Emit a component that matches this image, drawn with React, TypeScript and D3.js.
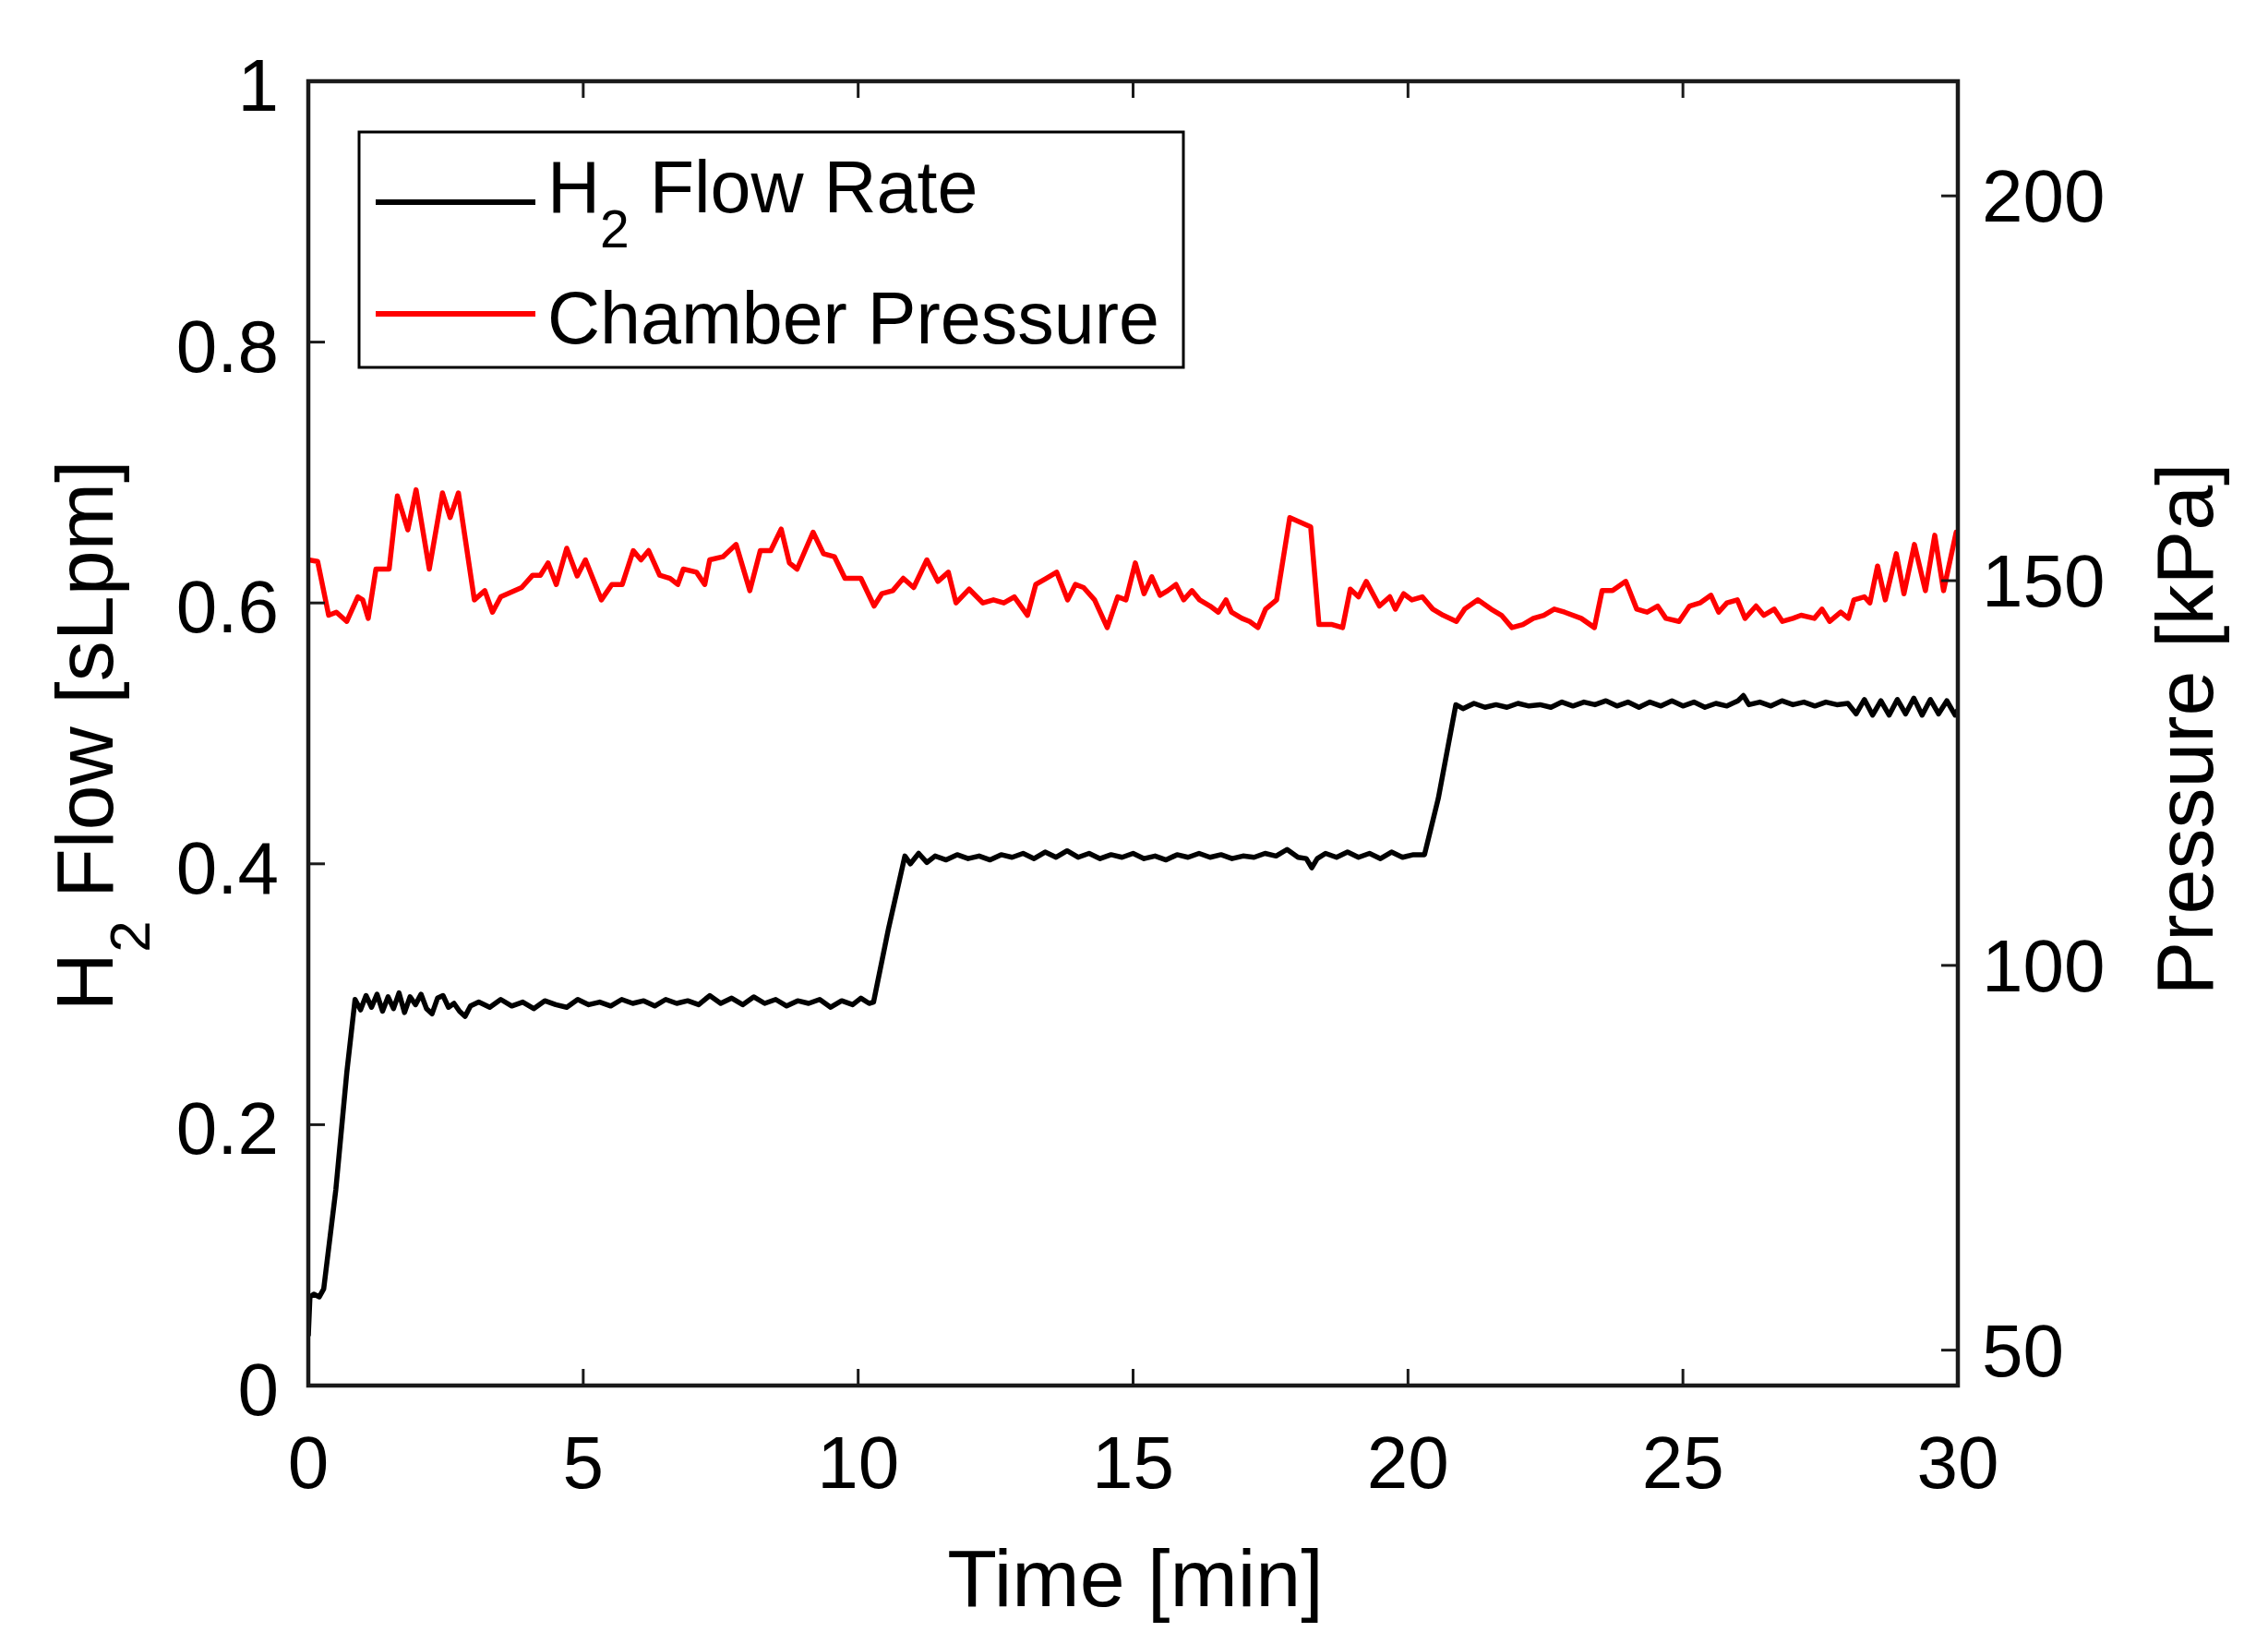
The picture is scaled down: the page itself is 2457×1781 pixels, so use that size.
import * as d3 from 'd3'

// time [min], H2 flow [sLpm]
const flowData: [number, number][] = [
  [0, 0.038], [0.03, 0.068], [0.1, 0.07], [0.2, 0.068], [0.28, 0.074], [0.5, 0.15], [0.7, 0.24], [0.85, 0.296],
  [0.95, 0.288], [1.05, 0.299], [1.15, 0.29], [1.25, 0.3], [1.35, 0.287], [1.45, 0.298], [1.55, 0.289], [1.65, 0.301],
  [1.75, 0.286], [1.85, 0.298], [1.95, 0.292], [2.05, 0.3], [2.15, 0.289], [2.25, 0.285], [2.35, 0.297], [2.45, 0.299],
  [2.55, 0.29], [2.65, 0.293], [2.75, 0.287], [2.85, 0.283], [2.95, 0.291], [3.1, 0.294], [3.3, 0.29], [3.5, 0.296],
  [3.7, 0.291], [3.9, 0.294], [4.1, 0.289], [4.3, 0.295], [4.5, 0.292], [4.7, 0.29], [4.9, 0.296], [5.1, 0.292],
  [5.3, 0.294], [5.5, 0.291], [5.7, 0.296], [5.9, 0.293], [6.1, 0.295], [6.3, 0.291], [6.5, 0.296], [6.7, 0.293],
  [6.9, 0.295], [7.1, 0.292], [7.3, 0.299], [7.5, 0.293], [7.7, 0.297], [7.9, 0.292], [8.1, 0.298], [8.3, 0.293],
  [8.5, 0.296], [8.7, 0.291], [8.9, 0.295], [9.1, 0.293], [9.3, 0.296], [9.5, 0.29], [9.7, 0.295], [9.9, 0.292],
  [10.05, 0.297], [10.2, 0.293], [10.28, 0.294], [10.55, 0.35], [10.85, 0.406],
  [10.95, 0.4], [11.1, 0.408], [11.25, 0.401], [11.4, 0.406], [11.6, 0.403], [11.8, 0.407], [12.0, 0.404], [12.2, 0.406],
  [12.4, 0.403], [12.6, 0.407], [12.8, 0.405], [13.0, 0.408], [13.2, 0.404], [13.4, 0.409], [13.6, 0.405], [13.8, 0.41],
  [14.0, 0.405], [14.2, 0.408], [14.4, 0.404], [14.6, 0.407], [14.8, 0.405], [15.0, 0.408], [15.2, 0.404], [15.4, 0.406],
  [15.6, 0.403], [15.8, 0.407], [16.0, 0.405], [16.2, 0.408], [16.4, 0.405], [16.6, 0.407], [16.8, 0.404], [17.0, 0.406],
  [17.2, 0.405], [17.4, 0.408], [17.6, 0.406], [17.8, 0.411], [18.0, 0.405], [18.15, 0.404], [18.25, 0.397], [18.35, 0.404],
  [18.5, 0.408], [18.7, 0.405], [18.9, 0.409], [19.1, 0.405], [19.3, 0.408], [19.5, 0.404], [19.7, 0.409], [19.9, 0.405],
  [20.1, 0.407], [20.3, 0.407], [20.55, 0.45], [20.87, 0.522],
  [21.0, 0.519], [21.2, 0.523], [21.4, 0.52], [21.6, 0.522], [21.8, 0.52], [22.0, 0.523], [22.2, 0.521], [22.4, 0.522],
  [22.6, 0.52], [22.8, 0.524], [23.0, 0.521], [23.2, 0.524], [23.4, 0.522], [23.6, 0.525], [23.8, 0.521], [24.0, 0.524],
  [24.2, 0.52], [24.4, 0.524], [24.6, 0.521], [24.8, 0.525], [25.0, 0.521], [25.2, 0.524], [25.4, 0.52], [25.6, 0.523],
  [25.8, 0.521], [26.0, 0.525], [26.1, 0.529], [26.2, 0.522], [26.4, 0.524], [26.6, 0.521], [26.8, 0.525], [27.0, 0.522],
  [27.2, 0.524], [27.4, 0.521], [27.6, 0.524], [27.8, 0.522], [28.0, 0.523], [28.15, 0.515], [28.3, 0.526], [28.45, 0.514],
  [28.6, 0.525], [28.75, 0.514], [28.9, 0.526], [29.05, 0.515], [29.2, 0.527], [29.35, 0.514], [29.5, 0.526], [29.65, 0.515],
  [29.8, 0.525], [29.95, 0.514], [30.0, 0.518],
]

// time [min], chamber pressure [kPa]
const pressureData: [number, number][] = [
  [0, 152.7], [0.17, 152.5], [0.37, 145.5], [0.51, 145.9], [0.7, 144.7], [0.9, 147.9], [0.99, 147.5], [1.09, 145.1],
  [1.23, 151.5], [1.47, 151.5], [1.62, 161.0], [1.81, 156.6], [1.96, 161.8], [2.2, 151.5], [2.44, 161.4], [2.58, 158.2],
  [2.73, 161.4], [3.02, 147.5], [3.21, 148.7], [3.35, 145.9], [3.5, 147.9], [3.88, 149.1], [4.08, 150.7], [4.22, 150.7],
  [4.36, 152.3], [4.51, 149.5], [4.7, 154.2], [4.89, 150.6], [5.04, 152.7], [5.33, 147.5], [5.52, 149.5], [5.71, 149.5],
  [5.91, 153.9], [6.05, 152.7], [6.19, 153.9], [6.39, 150.7], [6.58, 150.3], [6.72, 149.5], [6.82, 151.5], [7.06, 151.1],
  [7.21, 149.5], [7.3, 152.7], [7.54, 153.1], [7.78, 154.7], [8.03, 148.7], [8.22, 153.9], [8.41, 153.9], [8.6, 156.7],
  [8.75, 152.3], [8.89, 151.5], [9.18, 156.3], [9.37, 153.5], [9.57, 153.1], [9.76, 150.3], [10.05, 150.3], [10.29, 146.7],
  [10.43, 148.3], [10.63, 148.7], [10.82, 150.3], [11.01, 149.1], [11.25, 152.7], [11.45, 149.9], [11.64, 151.1], [11.78, 147.1],
  [12.02, 148.9], [12.27, 147.1], [12.46, 147.5], [12.65, 147.1], [12.84, 147.9], [13.08, 145.5], [13.23, 149.5], [13.42, 150.3],
  [13.61, 151.1], [13.81, 147.5], [13.95, 149.5], [14.1, 149.1], [14.3, 147.5], [14.53, 143.9], [14.72, 147.9], [14.87, 147.5],
  [15.04, 152.3], [15.2, 148.3], [15.34, 150.5], [15.49, 148.1], [15.63, 148.7], [15.78, 149.5], [15.92, 147.5], [16.07, 148.7],
  [16.21, 147.5], [16.4, 146.7], [16.55, 145.9], [16.69, 147.5], [16.79, 145.9], [16.98, 145.1], [17.12, 144.7], [17.27, 143.9],
  [17.41, 146.3], [17.61, 147.5], [17.85, 158.2], [18.04, 157.6], [18.23, 157.0], [18.38, 144.3], [18.62, 144.3], [18.81, 143.9],
  [18.95, 148.9], [19.1, 147.9], [19.24, 149.9], [19.48, 146.7], [19.67, 147.9], [19.77, 146.3], [19.92, 148.3], [20.07, 147.5],
  [20.26, 147.9], [20.45, 146.3], [20.64, 145.5], [20.88, 144.7], [21.03, 146.3], [21.27, 147.5], [21.51, 146.3], [21.7, 145.5],
  [21.89, 143.9], [22.09, 144.3], [22.28, 145.1], [22.47, 145.5], [22.66, 146.3], [22.85, 145.9], [23.15, 145.1], [23.39, 143.9],
  [23.53, 148.7], [23.72, 148.7], [23.96, 149.9], [24.16, 146.3], [24.35, 145.9], [24.54, 146.7], [24.69, 145.1], [24.93, 144.7],
  [25.12, 146.7], [25.31, 147.1], [25.51, 148.1], [25.65, 145.9], [25.8, 147.1], [25.99, 147.5], [26.13, 145.1], [26.33, 146.7],
  [26.47, 145.5], [26.66, 146.3], [26.81, 144.7], [27.0, 145.1], [27.15, 145.5], [27.39, 145.1], [27.53, 146.3], [27.67, 144.7],
  [27.87, 145.9], [28.01, 145.1], [28.11, 147.5], [28.3, 147.9], [28.4, 147.1], [28.54, 151.9], [28.68, 147.5], [28.88, 153.5],
  [29.02, 148.3], [29.21, 154.7], [29.41, 148.7], [29.58, 155.9], [29.74, 148.7], [29.97, 156.3], [30.0, 155.5],
]

const timeTicks = [0, 5, 10, 15, 20, 25, 30]
const flowTicks = [0, 0.2, 0.4, 0.6, 0.8, 1]
const pressureTicks = [50, 100, 150, 200]

const W = 2457
const H = 1781
const left = 334
const right = 2121
const top = 88
const bottom = 1501
const font = '"Liberation Sans", Arial, sans-serif'
const axisColor = '#1a1a1a'
const tickLen = 18

export default function App() {
  const x = d3.scaleLinear().domain([0, 30]).range([left, right])
  const yL = d3.scaleLinear().domain([0, 1]).range([bottom, top])
  const yR = d3.scaleLinear().domain([45.4, 214.9]).range([bottom, top])

  const flowLine = d3.line<[number, number]>()
    .x(d => x(d[0]))
    .y(d => yL(d[1]))
  const pressureLine = d3.line<[number, number]>()
    .x(d => x(d[0]))
    .y(d => yR(d[1]))

  return (
    <svg width={W} height={H} style={{ position: 'absolute', left: 0, top: 0, background: '#fff' }}
      fontFamily={font}>
      <rect x={0} y={0} width={W} height={H} fill="#fff" />
      <defs>
        <clipPath id="plotArea">
          <rect x={left} y={top} width={right - left} height={bottom - top} />
        </clipPath>
      </defs>

      {/* data */}
      <g clipPath="url(#plotArea)" fill="none" strokeLinejoin="round">
        <path d={flowLine(flowData) || ''} stroke="#000" strokeWidth={5.5} />
        <path d={pressureLine(pressureData) || ''} stroke="#ff0000" strokeWidth={5.5} />
      </g>

      {/* ticks */}
      <g stroke={axisColor} strokeWidth={3}>
        {timeTicks.map(t => (
          <g key={'t' + t}>
            <line x1={x(t)} x2={x(t)} y1={bottom} y2={bottom - tickLen} />
            <line x1={x(t)} x2={x(t)} y1={top} y2={top + tickLen} />
          </g>
        ))}
        {flowTicks.map(v => (
          <line key={'f' + v} x1={left} x2={left + tickLen} y1={yL(v)} y2={yL(v)} />
        ))}
        {pressureTicks.map(v => (
          <line key={'p' + v} x1={right} x2={right - tickLen} y1={yR(v)} y2={yR(v)} />
        ))}
      </g>

      {/* box */}
      <rect x={left} y={top} width={right - left} height={bottom - top} fill="none"
        stroke={axisColor} strokeWidth={4.5} />

      {/* tick labels */}
      <g fontSize={80} fill="#000">
        {timeTicks.map(t => (
          <text key={'tl' + t} x={x(t)} y={1612} textAnchor="middle">{t}</text>
        ))}
        {flowTicks.map(v => (
          <text key={'fl' + v} x={302} y={yL(v)} dy="0.4em" textAnchor="end">{v}</text>
        ))}
        {pressureTicks.map(v => (
          <text key={'pl' + v} x={2147} y={yR(v)} dy="0.35em" textAnchor="start">{v}</text>
        ))}
      </g>

      {/* axis labels */}
      <text x={1230} y={1740} fontSize={88} textAnchor="middle" fill="#000">Time [min]</text>
      <text transform="translate(122,797) rotate(-90)" fontSize={88} textAnchor="middle" fill="#000"
        style={{ whiteSpace: 'pre' }}>
        <tspan>H</tspan>
        <tspan dy={40} fontSize={62}>2</tspan>
        <tspan dy={-40}> Flow [sLpm]</tspan>
      </text>
      <text transform="translate(2397,790) rotate(-90)" fontSize={88} textAnchor="middle" fill="#000">
        Pressure [kPa]
      </text>

      {/* legend */}
      <rect x={389} y={143} width={893} height={255} fill="#fff" stroke="#000" strokeWidth={3} />
      <line x1={407} x2={580} y1={219} y2={219} stroke="#000" strokeWidth={6} />
      <line x1={407} x2={580} y1={340} y2={340} stroke="#ff0000" strokeWidth={6} />
      <text x={593} y={230} fontSize={79} fill="#000" style={{ whiteSpace: 'pre' }}>
        <tspan>H</tspan>
        <tspan dy={38} fontSize={57}>2</tspan>
        <tspan dy={-38}> Flow Rate</tspan>
      </text>
      <text x={593} y={372} fontSize={79} fill="#000">Chamber Pressure</text>
    </svg>
  )
}
